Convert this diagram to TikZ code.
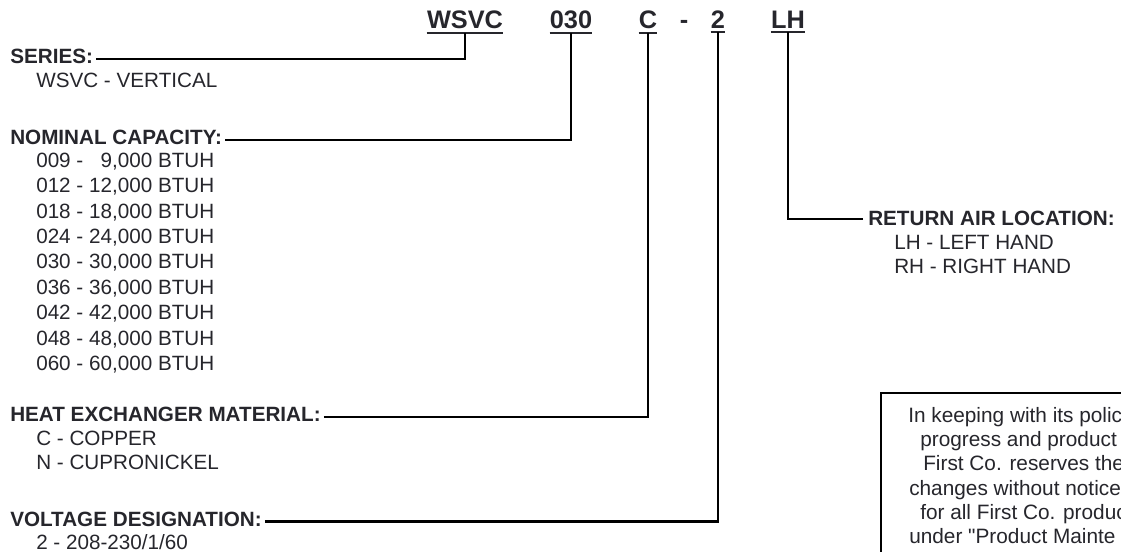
\documentclass[tikz,border=0pt]{standalone}
\usepackage{fontspec}
\setmainfont{Liberation Sans}[Ligatures=TeXOff]
\definecolor{txt}{RGB}{38,38,44}
\begin{document}
\begin{tikzpicture}[x=0.75pt,y=-0.75pt,
  lbl/.style={anchor=base west, inner sep=0pt, font=\fontsize{15.5}{18}\selectfont\bfseries, text=txt},
  itm/.style={anchor=base west, inner sep=0pt, font=\fontsize{15.5}{18}\selectfont, text=txt},
  boxtxt/.style={anchor=base west, inner sep=0pt, font=\fontsize{15.6}{18}\selectfont, text=txt},
  code/.style={anchor=base, inner sep=0pt, font=\fontsize{19}{22}\selectfont\bfseries, text=txt},
  conn/.style={line width=1.9pt, black},
  uline/.style={line width=1.5pt, txt},
  noticebox/.style={line width=0.9pt, black}]
\useasboundingbox (0,0) rectangle (1121,552);
\clip (0,0) rectangle (1121,552);
\fill[white] (0,0) rectangle (1121,552);

% code row
\node[code] (cW) at (465,29) {WSVC};
\node[code] (c030) at (571,29) {030};
\node[code] (cC) at (648,29) {C};
\node[code] (cdash) at (684,29) {-};
\node[code] (c2) at (718,29) {2};
\node[code] (cLH) at (788,29) {LH};
\foreach \n in {cW,c030,cC,c2,cLH}{
  \draw[uline] ([yshift=-2.25pt]\n.south west) -- ([yshift=-2.25pt]\n.south east);
}

% series
\node[lbl] (ser) at (10,63.5) {SERIES:};
\node[itm] (serA) at (36,88) {WSVC - VERTICAL};

% nominal capacity
\node[lbl] (nom) at (10,144.5) {NOMINAL CAPACITY:};
\node[itm] (n1) at (36,167.4) {009 - \phantom{1}9,000 BTUH};
\node[itm] (n2) at (36,192.8) {012 - 12,000 BTUH};
\node[itm] (n3) at (36,218.2) {018 - 18,000 BTUH};
\node[itm] (n4) at (36,243.6) {024 - 24,000 BTUH};
\node[itm] (n5) at (36,269.0) {030 - 30,000 BTUH};
\node[itm] (n6) at (36,294.4) {036 - 36,000 BTUH};
\node[itm] (n7) at (36,319.8) {042 - 42,000 BTUH};
\node[itm] (n8) at (36,345.2) {048 - 48,000 BTUH};
\node[itm] (n9) at (36,370.6) {060 - 60,000 BTUH};

% heat exchanger
\node[lbl] (hx) at (10,421.5) {HEAT EXCHANGER MATERIAL:};
\node[itm] (hx1) at (36,445.5) {C - COPPER};
\node[itm] (hx2) at (36,469.5) {N - CUPRONICKEL};

% voltage
\node[lbl] (vol) at (10,526) {VOLTAGE DESIGNATION:};
\node[itm] (vol1) at (36,549) {2 - 208-230/1/60};

% return air
\node[lbl] (ret) at (868,226) {RETURN AIR LOCATION:};
\node[itm] (ret1) at (894,250) {LH - LEFT HAND};
\node[itm] (ret2) at (894,274) {RH - RIGHT HAND};

% connectors
\draw[conn] ([shift={(3,2.5)}]ser.east) -| ([yshift=-2.25pt]cW.south);
\draw[conn] ([shift={(3,2.5)}]nom.east) -| ([yshift=-2.25pt]c030.south);
\draw[conn] ([shift={(3,2.5)}]hx.east) -| ([yshift=-2.25pt]cC.south);
\draw[conn] ([shift={(3,2.5)}]vol.east) -| ([yshift=-2.25pt]c2.south);
\draw[conn] ([shift={(-5,0)}]ret.west) -| ([yshift=-2.25pt]cLH.south);

% notice box (cut by the picture's edge)
\draw[noticebox] (881,393) rectangle (1160,580);
\node[boxtxt] (b1) at (908,422) {In keeping with its polic};
\node[boxtxt] (b2) at (920,446) {progress and product};
\node[boxtxt] (b3) at (923,470) {First Co. reserves the};
\node[boxtxt] (b4) at (909,495) {changes without notice};
\node[boxtxt] (b5) at (920,519) {for all First Co. produc};
\node[boxtxt] (b6) at (909,543) {under "Product Mainte};
\end{tikzpicture}
\end{document}
